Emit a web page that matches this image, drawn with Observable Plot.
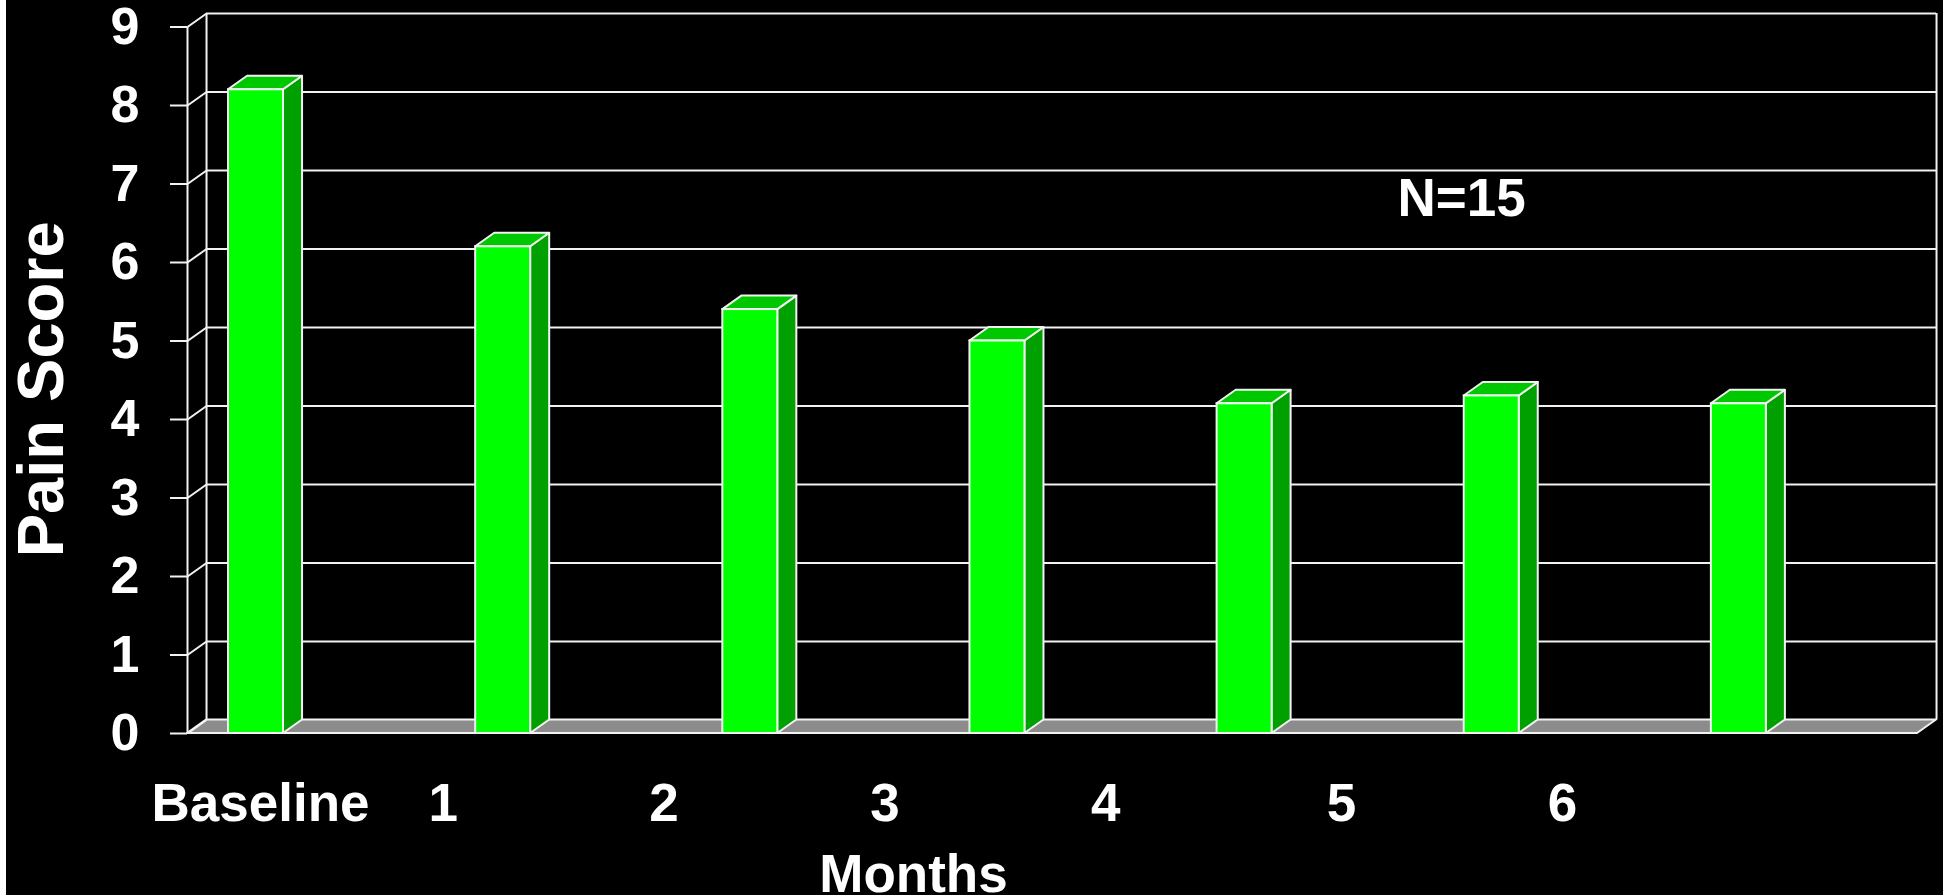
<!DOCTYPE html>
<html>
<head>
<meta charset="utf-8">
<script src="https://cdn.jsdelivr.net/npm/d3@7"></script>
<script src="https://cdn.jsdelivr.net/npm/@observablehq/plot@0.6"></script>
<style>
  html, body { margin: 0; padding: 0; background: #000; overflow: hidden; }
  body::before {
    content: ""; position: fixed; left: 0; top: 0; width: 6px; height: 100%;
    background: #fff; z-index: 2;
  }
  #chart svg { display: block; }
</style>
</head>
<body>
<div id="chart"></div>
<script>
// Pain score by follow-up month
const months = ["Baseline", "1", "2", "3", "4", "5", "6"];
const painScores = [8.2, 6.2, 5.4, 5.0, 4.2, 4.3, 4.2];
const yTicks = [0, 1, 2, 3, 4, 5, 6, 7, 8, 9];
const sampleNote = "N=15";
const xTitle = "Months";
const yTitle = "Pain Score";

// Layout of the pseudo-3D box (x in category units, y in score units)
const barInset = 0.166;   // gap before each bar's front face within its slot
const barWidth = 0.2225;  // front face width
const depthX = 0.077;     // receding depth, horizontal
const depthY = 0.172;     // receding depth, vertical
const labelGaps = [4, 13, 13, 13, 14, 13]; // spacing between category labels

const font = "'Liberation Sans', Arial, Helvetica, sans-serif";
const line = "#f2f2f2";

const bars = months.map((month, i) => ({
  month, i, score: painScores[i],
  x1: i + barInset, x2: i + barInset + barWidth
}));

const sides = bars.flatMap(b => [
  {i: b.i, x: b.x2, lo: 0, hi: b.score},
  {i: b.i, x: b.x2 + depthX, lo: depthY, hi: b.score + depthY}
]);
const tops = bars.flatMap(b => [
  {i: b.i, y: b.score, xa: b.x1, xb: b.x2},
  {i: b.i, y: b.score + depthY, xa: b.x1 + depthX, xb: b.x2 + depthX}
]);
const n = months.length;
const floor = [
  {y: 0, xa: 0, xb: n},
  {y: depthY, xa: depthX, xb: n + depthX}
];

const labelRow = months.reduce((s, m, k) =>
  k === 0 ? m : s + "\u00A0".repeat(labelGaps[k - 1]) + m, "");

const chart = Plot.plot({
  width: 1943,
  height: 895,
  marginLeft: 187,
  marginRight: 26,
  marginTop: 26.5,
  marginBottom: 162,
  style: {background: "#000", color: "#fff", fontFamily: font, fontWeight: "bold", overflow: "visible"},
  x: {type: "linear", domain: [0, n], axis: null},
  y: {domain: [0, 9], axis: null},
  marks: [
    // floor
    Plot.areaX(floor, {y: "y", x1: "xa", x2: "xb", fill: "#8c8c8c", stroke: line, strokeWidth: 2}),
    // back wall gridlines and edges
    Plot.ruleY(yTicks.slice(1), {y: d => d + depthY, x1: depthX, x2: n + depthX, stroke: line, strokeWidth: 2}),
    Plot.ruleX([depthX, n + depthX], {y1: depthY, y2: 9 + depthY, stroke: line, strokeWidth: 2}),
    // side wall connectors
    Plot.link(yTicks, {x1: 0, y1: d => d, x2: depthX, y2: d => d + depthY, stroke: line, strokeWidth: 2}),
    Plot.ruleX([0], {y1: 0, y2: 9, stroke: line, strokeWidth: 2}),
    Plot.axisY({ticks: yTicks, tickSize: 17, tickPadding: 31, fontSize: 52, fontWeight: "bold",
      stroke: line, fill: "#fff", strokeWidth: 2, label: null}),
    // columns: side, top, front
    Plot.areaY(sides, {x: "x", y1: "lo", y2: "hi", z: "i", fill: "#00a000", stroke: line, strokeWidth: 2, strokeLinejoin: "round"}),
    Plot.areaX(tops, {y: "y", x1: "xa", x2: "xb", z: "i", fill: "#00c800", stroke: line, strokeWidth: 2, strokeLinejoin: "round"}),
    Plot.rect(bars, {x1: "x1", x2: "x2", y1: 0, y2: "score", fill: "#00ff00", stroke: line, strokeWidth: 2}),
    // annotations and titles
    Plot.text([sampleNote], {x: 4.896, y: 6.586, text: d => d, textAnchor: "start", lineAnchor: "bottom",
      fontSize: 53, fontWeight: "bold", fill: "#fff"}),
    Plot.text([labelRow], {frameAnchor: "bottom-left", text: d => d, textAnchor: "start", lineAnchor: "bottom",
      dx: -36, dy: 87, fontSize: 53, fontWeight: "bold", fill: "#fff"}),
    Plot.text([xTitle], {frameAnchor: "bottom", text: d => d, textAnchor: "middle", lineAnchor: "bottom",
      dx: -139, dy: 158, fontSize: 53, fontWeight: "bold", fill: "#fff"}),
    Plot.text([yTitle], {frameAnchor: "left", text: d => d, rotate: -90, textAnchor: "middle", lineAnchor: "bottom",
      dx: -125, dy: 9, fontSize: 65, fontWeight: "bold", fill: "#fff"})
  ]
});

document.getElementById("chart").append(chart);
</script>
</body>
</html>
